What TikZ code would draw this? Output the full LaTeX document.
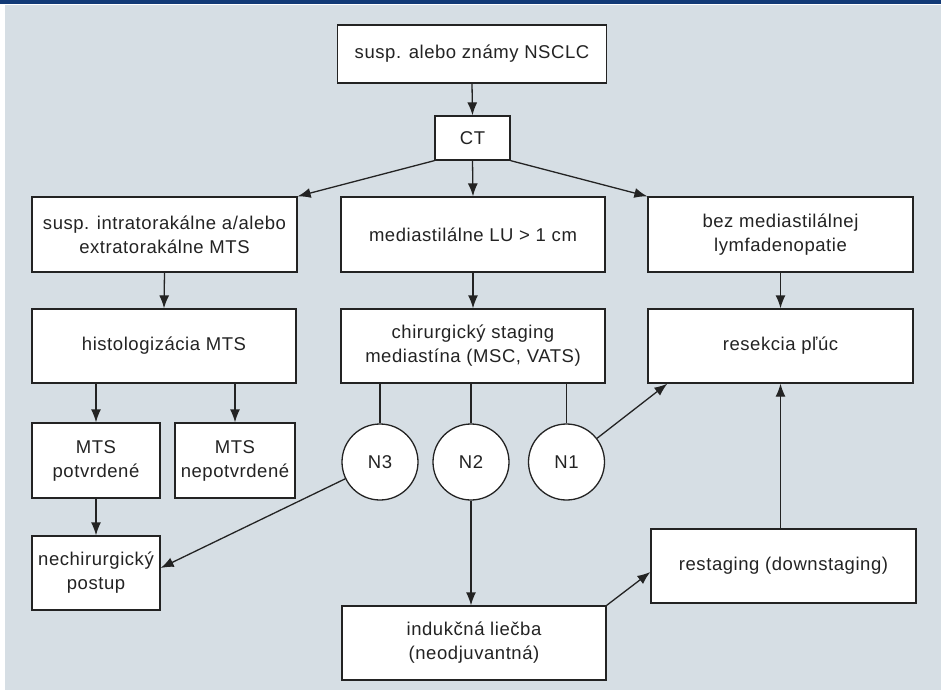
\documentclass[tikz,border=0pt]{standalone}
\usepackage{fontspec}
\setmainfont{Liberation Sans}[LetterSpace=3.0]
\usetikzlibrary{arrows.meta}
\definecolor{bgcol}{RGB}{214,222,228}
\definecolor{navycol}{RGB}{18,58,118}
\definecolor{lncol}{RGB}{35,35,35}
\begin{document}
\begin{tikzpicture}[x=1pt,y=-1pt,
  box/.style={draw=lncol, line width=1.3pt, fill=white, inner sep=0pt, align=center,
    font=\fontsize{18.5}{24}\selectfont, text=lncol},
  circ/.style={circle, draw=lncol, line width=1.3pt, fill=white, minimum size=76pt,
    inner sep=0pt, font=\fontsize{18.5}{24}\selectfont, text=lncol},
  arr/.style={draw=lncol, line width=1.3pt, -{Latex[length=13pt,width=10pt]}},
  conn/.style={draw=lncol, line width=1.3pt}
]
\useasboundingbox (0,0) rectangle (941,690);
\fill[white] (0,0) rectangle (941,690);
\fill[bgcol] (5,5) rectangle (941,690);
\fill[navycol] (0,0) rectangle (941,4);

\node[box, minimum width=269pt, minimum height=58pt] (top) at (472,54) {susp. alebo známy NSCLC};
\node[box, minimum width=75pt, minimum height=44pt] (ct) at (472.5,138) {CT};
\node[box, minimum width=265pt, minimum height=75pt] (mts) at (164.5,234.5) {susp. intratorakálne a/alebo\\extratorakálne MTS};
\node[box, minimum width=264pt, minimum height=75pt] (lu) at (473,234.5) {mediastilálne LU > 1 cm};
\node[box, minimum width=265pt, minimum height=75pt] (bez) at (780.5,234.5) {bez mediastilálnej\\lymfadenopatie};
\node[box, minimum width=264pt, minimum height=74pt] (hist) at (164,346) {histologizácia MTS};
\node[box, minimum width=264pt, minimum height=74pt] (chir) at (473,346) {chirurgický staging\\mediastína (MSC, VATS)};
\node[box, minimum width=265pt, minimum height=74pt] (res) at (780.5,346) {resekcia pľúc};
\node[box, minimum width=128pt, minimum height=75pt] (pot) at (96,460.5) {MTS\\potvrdené};
\node[box, minimum width=120pt, minimum height=75pt] (nep) at (235,460.5) {MTS\\nepotvrdené};
\node[box, minimum width=128pt, minimum height=74pt] (nech) at (96,573) {nechirurgický\\postup};
\node[circ] (n3) at (380,462) {N3};
\node[circ] (n2) at (471,462) {N2};
\node[circ] (n1) at (566.5,462) {N1};
\node[box, minimum width=264pt, minimum height=74pt] (ind) at (474,643) {indukčná liečba\\(neodjuvantná)};
\node[box, minimum width=265pt, minimum height=74pt] (rest) at (783.5,566) {restaging (downstaging)};

\draw[arr] (top.south) -- (ct.north);
\draw[arr] (ct.south west) -- (mts.north east);
\draw[arr] (ct.south) -- (lu.north);
\draw[arr] (ct.south east) -- (bez.north west);
\draw[arr] (mts.south) -- (hist.north);
\draw[arr] (lu.south) -- (chir.north);
\draw[arr] (bez.south) -- (res.north);
\draw[arr] (hist.south -| pot.north) -- (pot.north);
\draw[arr] (hist.south -| nep.north) -- (nep.north);
\draw[arr] (pot.south) -- (nech.north);
\draw[conn] (chir.south -| n3.north) -- (n3.north);
\draw[conn] (chir.south -| n2.north) -- (n2.north);
\draw[conn] (chir.south -| n1.north) -- (n1.north);
\draw[arr] (n3) -- ([yshift=5pt]nech.east);
\draw[arr] (n2.south) -- (n2.south |- ind.north);
\draw[arr] (n1) -- ([xshift=20pt]res.south west);
\draw[arr] (ind.north east) -- ([yshift=-6pt]rest.west);
\draw[arr] (res.south |- rest.north) -- (res.south);
\end{tikzpicture}
\end{document}
